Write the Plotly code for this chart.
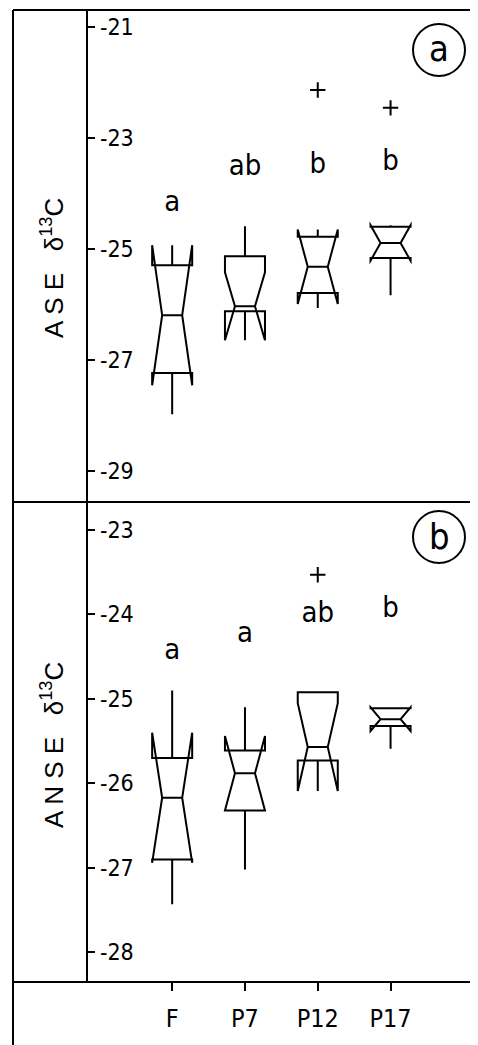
import plotly.graph_objects as go

# Sites
groups = ["F", "P7", "P12", "P17"]

# Panel (a) ASE d13C: box statistics
a_q1 = [-27.23, -26.12, -25.79, -25.16]
a_median = [-26.19, -26.03, -25.32, -24.89]
a_q3 = [-25.29, -25.13, -24.78, -24.60]
a_lower = [-27.97, -26.24, -26.06, -25.83]
a_upper = [-25.16, -24.59, -24.78, -24.60]
a_notch = [1.26, 0.61, 0.67, 0.32]
a_out_x = ["P12", "P17"]
a_out_y = [-22.14, -22.46]
a_letters = ["a", "ab", "b", "b"]
a_letter_y = [-24.19, -23.54, -23.51, -23.45]
a_ticks = [-21, -23, -25, -27, -29]

# Panel (b) ANSE d13C
b_q1 = [-26.90, -26.32, -25.73, -25.32]
b_median = [-26.17, -25.88, -25.57, -25.24]
b_q3 = [-25.70, -25.61, -24.92, -25.11]
b_lower = [-27.43, -27.02, -25.73, -25.59]
b_upper = [-24.90, -25.10, -24.92, -25.11]
b_notch = [0.77, 0.44, 0.52, 0.14]
b_out_x = ["P12"]
b_out_y = [-23.53]
b_letters = ["a", "a", "ab", "b"]
b_letter_y = [-24.44, -24.24, -24.00, -23.94]
b_ticks = [-23, -24, -25, -26, -27, -28]

# the page body has an 8px margin, so the figure is shrunk by that much
OFF = 8
W, H = 478 - OFF, 1045 - OFF
LETTER_FONT = "Liberation Sans Narrow, DejaVu Sans Condensed, Liberation Sans, sans-serif"
TICK_FONT = "Liberation Sans, Arial, sans-serif"


def px(x):
    return (x - OFF) / W


def py(y):
    return 1 - (y - OFF) / H


def tick_text(vals):
    return [" -%d" % abs(v) for v in vals]


fig = go.Figure()

box_style = dict(
    notched=True, notchwidth=0.25, whiskerwidth=0, width=0.55,
    boxpoints=False, fillcolor="rgba(0,0,0,0)",
    line=dict(color="black", width=2), showlegend=False,
)

fig.add_trace(go.Box(
    x=groups, q1=a_q1, median=a_median, q3=a_q3,
    lowerfence=a_lower, upperfence=a_upper, notchspan=a_notch,
    xaxis="x", yaxis="y", **box_style,
))
fig.add_trace(go.Box(
    x=groups, q1=b_q1, median=b_median, q3=b_q3,
    lowerfence=b_lower, upperfence=b_upper, notchspan=b_notch,
    xaxis="x2", yaxis="y2", **box_style,
))

# outliers drawn as plus signs
out_marker = dict(symbol="cross-thin", size=11, line=dict(color="black", width=2))
fig.add_trace(go.Scatter(x=a_out_x, y=a_out_y, mode="markers", marker=out_marker,
                         xaxis="x", yaxis="y", showlegend=False))
fig.add_trace(go.Scatter(x=b_out_x, y=b_out_y, mode="markers", marker=out_marker,
                         xaxis="x2", yaxis="y2", showlegend=False))

# significance letters
fig.add_trace(go.Scatter(x=groups, y=a_letter_y, mode="text", text=a_letters,
                         textfont=dict(family=LETTER_FONT, size=29, color="black"),
                         xaxis="x", yaxis="y", showlegend=False))
fig.add_trace(go.Scatter(x=groups, y=b_letter_y, mode="text", text=b_letters,
                         textfont=dict(family=LETTER_FONT, size=29, color="black"),
                         xaxis="x2", yaxis="y2", showlegend=False))

xdom = [px(87), px(475)]
xrange_ = [-1.17, 4.16]

y_common = dict(
    ticks="inside", ticklen=8, tickwidth=2, tickcolor="black",
    ticklabelposition="inside", tickfont=dict(family=LETTER_FONT, size=23, color="black"),
    showgrid=False, zeroline=False, showline=False,
)

fig.update_layout(
    width=W, height=H,
    margin=dict(l=0, r=0, t=0, b=0),
    paper_bgcolor="white", plot_bgcolor="white",
    showlegend=False,
    xaxis=dict(domain=xdom, anchor="y", type="category", categoryarray=groups,
               range=xrange_, showticklabels=False, ticks="", showgrid=False,
               zeroline=False, showline=False),
    xaxis2=dict(domain=xdom, anchor="y2", type="category", categoryarray=groups,
                range=xrange_, ticks="outside", ticklen=8, tickwidth=2,
                tickcolor="black", ticklabelstandoff=6,
                tickfont=dict(family=LETTER_FONT, size=25, color="black"),
                showgrid=False, zeroline=False, showline=False),
    yaxis=dict(domain=[py(502), py(10)], anchor="x", range=[-29.55, -20.70],
               tickvals=a_ticks, ticktext=tick_text(a_ticks), **y_common),
    yaxis2=dict(domain=[py(982), py(502)], anchor="x2", range=[-28.35, -22.67],
                tickvals=b_ticks, ticktext=tick_text(b_ticks), **y_common),
)

# frame lines of the original drawing
line = dict(color="black", width=2)
frame = [
    (13, 10, 13, 1045), (475, 10, 475, 1045), (13, 10, 475, 10),
    (13, 502, 475, 502), (13, 982, 475, 982), (87, 10, 87, 982),
]
for x0, y0, x1, y1 in frame:
    fig.add_shape(type="line", xref="paper", yref="paper",
                  x0=px(x0), y0=py(y0), x1=px(x1), y1=py(y1), line=line)

# circled panel labels
for label, cy in [("a", 50), ("b", 537)]:
    fig.add_shape(type="circle", xref="paper", yref="paper",
                  x0=px(439 - 26), x1=px(439 + 26), y0=py(cy + 26), y1=py(cy - 26),
                  line=dict(color="black", width=2))
    fig.add_annotation(text=label, xref="paper", yref="paper", x=px(439), y=py(cy - 1),
                       xanchor="center", yanchor="middle", showarrow=False,
                       font=dict(family=LETTER_FONT, size=36, color="black"))

# vertical axis titles in the left column
for title, cy in [("A S E   δ<sup>13</sup>C", 268), ("A N S E   δ<sup>13</sup>C", 745)]:
    fig.add_annotation(text=title, xref="paper", yref="paper", x=px(52), y=py(cy),
                       xanchor="center", yanchor="middle",
                       textangle=-90, showarrow=False,
                       font=dict(family=TICK_FONT, size=26, color="black"))

fig.write_html("out.html")
